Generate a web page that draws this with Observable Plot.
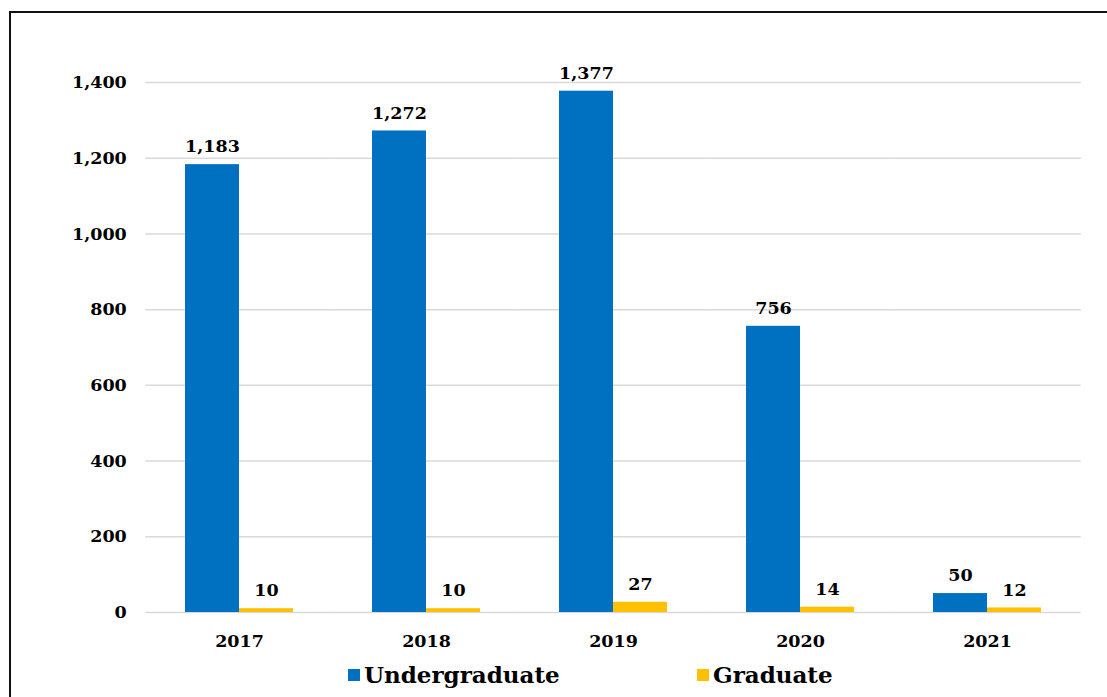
<!DOCTYPE html>
<html>
<head>
<meta charset="utf-8">
<script src="https://cdn.jsdelivr.net/npm/d3@7"></script>
<script src="https://cdn.jsdelivr.net/npm/@observablehq/plot@0.6"></script>
<style>
  html, body { margin: 0; padding: 0; background: #fff; overflow: hidden; }
  body { position: relative; width: 1107px; height: 697px; }
  #frame { position: absolute; left: 9px; top: 11px; width: 1300px; height: 900px; border: 2px solid #111; box-sizing: border-box; }
  #chart { position: absolute; left: 0; top: 0; }
  #legend { position: absolute; top: 661px; left: 0; width: 1107px; height: 30px; font-family: "DejaVu Serif", serif; font-weight: bold; font-size: 23px; color: #000; }
  .item { position: absolute; display: flex; align-items: center; gap: 4px; top: 0; }
  .sw { width: 12px; height: 12px; display: inline-block; }
</style>
</head>
<body>
<div id="frame"></div>
<div id="chart"></div>
<div id="legend"></div>
<script>
const years = ["2017", "2018", "2019", "2020", "2021"];
const undergraduate = [1183, 1272, 1377, 756, 50];
const graduate = [10, 10, 27, 14, 12];
const seriesNames = ["Undergraduate", "Graduate"];
const seriesColors = ["#0070C0", "#FFC000"];
const yTicks = [0, 200, 400, 600, 800, 1000, 1200, 1400];

const data = years.flatMap((yr, i) => [
  {year: yr, series: "Undergraduate", value: undergraduate[i]},
  {year: yr, series: "Graduate", value: graduate[i]}
]);

const W = 1107, mL = 144, mR = 26;
const padIn = 0.424, padOut = padIn / 2;
const step = (W - mL - mR) / years.length;
const half = step * padIn / 2;
const fmt = d3.format(",d");

const chart = Plot.plot({
  width: W,
  height: 657,
  marginLeft: mL,
  marginRight: mR,
  marginTop: 82,
  marginBottom: 45,
  style: {fontFamily: "DejaVu Serif", fontWeight: "bold", fontSize: "17.5px", color: "#000", background: "transparent", overflow: "visible"},
  fx: {domain: years, paddingInner: padIn, paddingOuter: padOut, label: null, axis: "bottom", tickSize: 0, tickPadding: 22},
  x: {domain: seriesNames, padding: 0, axis: null},
  y: {domain: [0, 1400], ticks: yTicks, tickFormat: fmt, tickSize: 0, tickPadding: 19 + half, label: null},
  color: {domain: seriesNames, range: seriesColors},
  marks: [
    Plot.ruleY(yTicks, {stroke: "#d9d9d9", strokeWidth: 1.5, insetLeft: -half, insetRight: -half}),
    Plot.barY(data, {fx: "year", x: "series", y: "value", fill: "series"}),
    Plot.text(data, {fx: "year", x: "series", y: "value", text: d => fmt(d.value), dy: -18, fill: "#000"})
  ]
});
document.getElementById("chart").appendChild(chart);

const legend = document.getElementById("legend");
const legendLeft = [348, 697];
seriesNames.forEach((name, i) => {
  const it = document.createElement("div");
  it.className = "item";
  it.style.left = legendLeft[i] + "px";
  const sw = document.createElement("span");
  sw.className = "sw";
  sw.style.background = seriesColors[i];
  const tx = document.createElement("span");
  tx.textContent = name;
  it.appendChild(sw);
  it.appendChild(tx);
  legend.appendChild(it);
});
</script>
</body>
</html>
